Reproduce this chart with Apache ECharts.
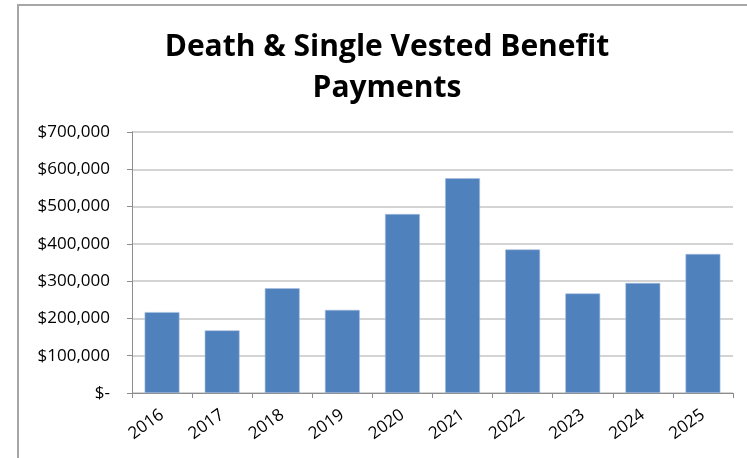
<!DOCTYPE html>
<html>
<head>
<meta charset="utf-8">
<script src="https://cdn.jsdelivr.net/npm/echarts@6/dist/echarts.min.js"></script>
<style>
  html, body { margin: 0; padding: 0; background: #fff; overflow: hidden; }
  .frame {
    position: absolute;
    left: 17px;
    top: 4px;
    width: 760px;
    height: 480px;
    border-left: 2px solid #a6a6a6;
    border-top: 2px solid #a6a6a6;
  }
  #chart { position: absolute; left: 0; top: 0; width: 747px; height: 458px; }
</style>
</head>
<body>
<div class="frame"></div>
<div id="chart"></div>
<script>
// 数据
var years = ['2016', '2017', '2018', '2019', '2020', '2021', '2022', '2023', '2024', '2025']
var payments = [217000, 168000, 281000, 223000, 480000, 576000, 385000, 267000, 295000, 373000]
var titleText = 'Death & Single Vested Benefit\nPayments'

var chart = echarts.init(document.getElementById('chart'))

function money(v) {
  if (v === 0) return '$-'
  return '$' + v.toLocaleString('en-US')
}

var option = {
  animation: false,
  title: {
    text: titleText,
    left: 382,
    textAlign: 'center',
    top: 22,
    textStyle: {
      fontFamily: 'Open Sans',
      fontWeight: 'bold',
      fontSize: 30,
      lineHeight: 41,
      color: '#000',
    },
  },
  grid: {
    left: 132,
    right: 14,
    top: 132,
    bottom: 65,
  },
  xAxis: {
    type: 'category',
    data: years,
    boundaryGap: true,
    axisLine: { lineStyle: { color: '#8c8c8c', width: 1 } },
    axisTick: { show: true, alignWithLabel: false, length: 5, lineStyle: { color: '#8c8c8c' } },
    axisLabel: {
      rotate: 36,
      interval: 0,
      margin: 20,
      fontFamily: 'Open Sans',
      fontSize: 17,
      color: '#000',
    },
  },
  yAxis: {
    type: 'value',
    min: 0,
    max: 700000,
    interval: 100000,
    axisLine: { show: true, lineStyle: { color: '#8c8c8c', width: 1 } },
    axisTick: { show: true, length: 5, lineStyle: { color: '#8c8c8c' } },
    splitLine: { lineStyle: { color: '#c6c6c6', width: 1.5 } },
    axisLabel: {
      margin: 22,
      fontFamily: 'Open Sans',
      fontSize: 17,
      color: '#000',
      formatter: money,
    },
  },
  series: [
    {
      type: 'bar',
      data: payments,
      barWidth: '58%',
      itemStyle: {
        color: '#4f81bd',
        borderColor: '#a9c0de',
        borderWidth: 0.6,
      },
    },
  ],
}
chart.setOption(option)
</script>
</body>
</html>
